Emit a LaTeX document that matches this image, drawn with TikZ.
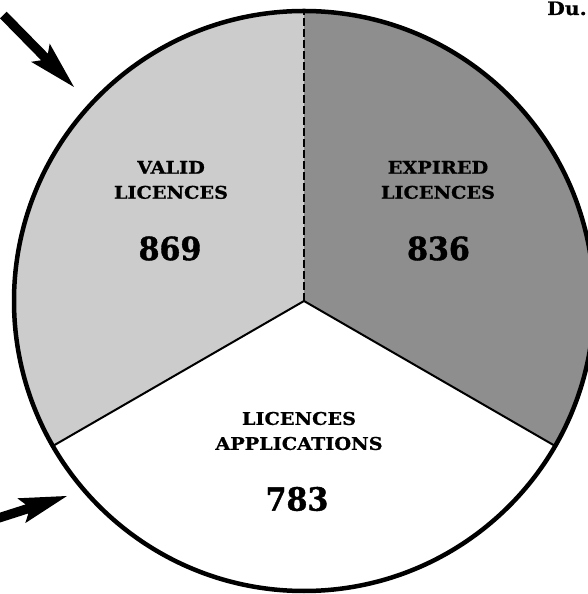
\documentclass[tikz,border=0pt]{standalone}
\usepackage{fontspec}
\setmainfont{DejaVu Serif}
\newfontfamily\lblfont[FakeStretch=1.1,FakeBold=0.8]{DejaVu Serif}
\newfontfamily\numfont[FakeStretch=0.94,FakeBold=1.2]{DejaVu Serif}
\usetikzlibrary{calc}
\definecolor{validgray}{HTML}{CCCCCC}
\definecolor{expiredgray}{HTML}{8E8E8E}
\begin{document}
\begin{tikzpicture}[x=1pt,y=1pt,
  label/.style={inner sep=0pt,align=center,font=\lblfont\bfseries\fontsize{17.5}{25}\selectfont},
  number/.style={inner sep=0pt,font=\numfont\bfseries\fontsize{32}{32}\selectfont},
  radial/.style={line width=2pt},
  rim/.style={line width=4.5pt},
  bigarrow/.style={fill=black,draw=none}]
\useasboundingbox (0,0) rectangle (588,594);
\clip (0,0) rectangle (588,594);
\def\R{290}
\coordinate (c) at (304,293);
\coordinate (ptop) at ($(c)+(90:\R)$);
\coordinate (pleft) at ($(c)+(210:\R)$);
\coordinate (pright) at ($(c)+(330:\R)$);
% sectors
\fill[validgray] (c) -- (ptop) arc[start angle=90,end angle=210,radius=\R] -- cycle;
\fill[expiredgray] (c) -- (pright) arc[start angle=-30,end angle=90,radius=\R] -- cycle;
\fill[white] (c) -- (pleft) arc[start angle=210,end angle=330,radius=\R] -- cycle;
% dividers
\draw[radial] (c) -- (pleft);
\draw[radial] (c) -- (pright);
\draw[radial,dash pattern=on 8pt off 3pt] (c) -- (ptop);
\draw[rim] (c) circle[radius=\R];
% labels
\node[label] (valid) at (171,414) {VALID\\LICENCES};
\node[number] (validn) at (170,345.5) {869};
\node[label] (expired) at (438,414) {EXPIRED\\LICENCES};
\node[number] (expiredn) at (438.5,345.5) {836};
\node[label] (appl) at (299,163) {LICENCES\\APPLICATIONS};
\node[number] (appln) at (297,95) {783};
\node[anchor=base west,inner sep=0pt,font=\lblfont\bfseries\fontsize{18.5}{18.5}\selectfont] (du) at (547,579) {Du.};
% arrows (image coordinates flipped: y -> 594-y)
\fill[bigarrow] (74,507) -- (31.1,532.2) -- (41.2,533.7) -- (-0.05,575.7)
  -- (6.65,582.3) -- (47.9,540.3) -- (49.7,550.4) -- cycle;
\fill[bigarrow] (67,98) -- (25.3,70.9) -- (28.4,80.6) -- (-7.8,69.0)
  -- (-10.6,78.0) -- (25.6,89.6) -- (17.3,95.7) -- cycle;
\end{tikzpicture}
\end{document}
